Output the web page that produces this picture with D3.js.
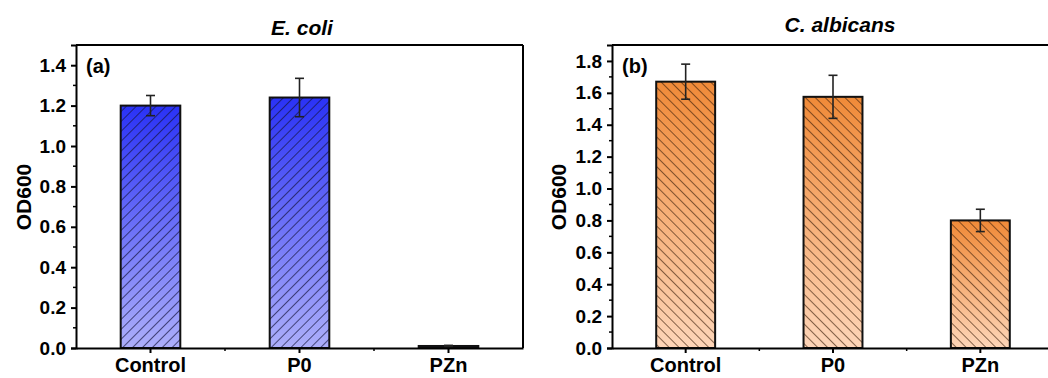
<!DOCTYPE html>
<html><head><meta charset="utf-8">
<script src="https://cdn.jsdelivr.net/npm/d3@7"></script>
<style>
html,body{margin:0;padding:0;background:#fff;}
svg{display:block;font-family:"Liberation Sans",Arial,sans-serif;}
</style></head>
<body>
<svg id="chart" width="1048" height="378"></svg>
<script>
const categories = ["Control", "P0", "PZn"];
const ecoliValues = [1.20, 1.24, 0.01];
const ecoliErrors = [0.05, 0.095, 0.003];
const albicansValues = [1.67, 1.575, 0.80];
const albicansErrors = [0.11, 0.135, 0.07];
const ecoliTicks = [0, 0.2, 0.4, 0.6, 0.8, 1.0, 1.2, 1.4];
const albicansTicks = [0, 0.2, 0.4, 0.6, 0.8, 1.0, 1.2, 1.4, 1.6, 1.8];

const svg = d3.select("#chart");
const defs = svg.append("defs");
const FONT = "Liberation Sans, Arial, sans-serif";

function makePanel(cfg) {
  const x = d3.scaleBand().domain(categories).range([cfg.x0, cfg.x1]).paddingInner(0.6).paddingOuter(0.3);
  const y = d3.scaleLinear().domain([0, cfg.ymax]).range([348, 45]);
  const g = svg.append("g");

  const grad = defs.append("linearGradient").attr("id", cfg.id + "grad")
    .attr("x1", 0).attr("y1", 0).attr("x2", 0).attr("y2", 1);
  grad.append("stop").attr("offset", "0%").attr("stop-color", cfg.top);
  grad.append("stop").attr("offset", "100%").attr("stop-color", cfg.bottom);

  const pat = defs.append("pattern").attr("id", cfg.id + "hatch")
    .attr("patternUnits", "userSpaceOnUse").attr("width", 7).attr("height", 7)
    .attr("patternTransform", "rotate(" + cfg.angle + ")");
  pat.append("line").attr("x1", 0).attr("y1", 3.5).attr("x2", 7).attr("y2", 3.5)
    .attr("stroke", cfg.hatch).attr("stroke-width", 0.9);

  svg.append("text").attr("x", cfg.titleX).attr("y", cfg.titleY)
    .attr("text-anchor", "middle").attr("font-size", 21).attr("font-weight", "bold")
    .attr("font-style", "italic").text(cfg.title);

  const bars = g.selectAll(".bar").data(categories).enter();
  bars.append("rect").attr("x", d => x(d)).attr("width", x.bandwidth())
    .attr("y", (d, i) => y(cfg.values[i])).attr("height", (d, i) => y(0) - y(cfg.values[i]))
    .attr("fill", "url(#" + cfg.id + "grad)");
  bars.append("rect").attr("x", d => x(d)).attr("width", x.bandwidth())
    .attr("y", (d, i) => y(cfg.values[i])).attr("height", (d, i) => y(0) - y(cfg.values[i]))
    .attr("fill", "url(#" + cfg.id + "hatch)")
    .attr("stroke", "#111").attr("stroke-width", 2);

  const cap = 4.5;
  categories.forEach((c, i) => {
    const cx = x(c) + x.bandwidth() / 2;
    const hi = y(cfg.values[i] + cfg.errors[i]), lo = y(cfg.values[i] - cfg.errors[i]);
    g.append("line").attr("x1", cx).attr("x2", cx).attr("y1", hi).attr("y2", lo)
      .attr("stroke", "#222").attr("stroke-width", 1.6);
    [hi, lo].forEach(yy => g.append("line").attr("x1", cx - cap).attr("x2", cx + cap)
      .attr("y1", yy).attr("y2", yy).attr("stroke", "#222").attr("stroke-width", 1.6));
  });

  g.append("line").attr("x1", cfg.x0).attr("x2", cfg.x1).attr("y1", y.range()[1]).attr("y2", y.range()[1])
    .attr("stroke", "#000").attr("stroke-width", 2);
  g.append("line").attr("x1", cfg.x1).attr("x2", cfg.x1).attr("y1", y.range()[1]).attr("y2", y.range()[0])
    .attr("stroke", "#000").attr("stroke-width", 2);

  const ya = g.append("g").attr("transform", "translate(" + cfg.x0 + ",0)")
    .call(d3.axisLeft(y).tickValues(cfg.ticks).tickSize(5).tickPadding(5).tickFormat(d3.format(".1f")));
  ya.select(".domain").attr("stroke-width", 2);
  ya.selectAll(".tick line").attr("stroke-width", 2);
  ya.selectAll("text").attr("font-size", 19).attr("font-weight", "bold").attr("fill", "#000")
    .attr("font-family", FONT);
  const minors = cfg.ticks.map(t => t + 0.1).filter(v => v < cfg.ymax);
  g.selectAll(".ymin").data(minors).enter().append("line")
    .attr("x1", cfg.x0 - 3).attr("x2", cfg.x0).attr("y1", d => y(d)).attr("y2", d => y(d))
    .attr("stroke", "#000").attr("stroke-width", 1.5);

  const xa = g.append("g").attr("transform", "translate(0,348)")
    .call(d3.axisBottom(x).tickSize(5).tickSizeOuter(0).tickPadding(5));
  xa.select(".domain").attr("stroke-width", 2);
  xa.selectAll(".tick line").attr("stroke-width", 2);
  xa.selectAll("text").attr("font-size", 20).attr("font-weight", "bold").attr("fill", "#000")
    .attr("font-family", FONT);
  const step = x.step();
  const bounds = categories.slice(1).map(c => x(c) + x.bandwidth() / 2 - step / 2);
  g.selectAll(".xmin").data(bounds).enter().append("line")
    .attr("x1", d => d).attr("x2", d => d).attr("y1", 348).attr("y2", 351)
    .attr("stroke", "#000").attr("stroke-width", 1.5);

  svg.append("text").attr("transform", "translate(" + cfg.ylabX + ",197) rotate(-90)")
    .attr("text-anchor", "middle").attr("font-size", 21).attr("font-weight", "bold").text("OD600");

  svg.append("text").attr("x", cfg.x0 + 10).attr("y", 73).attr("font-size", 20)
    .attr("font-weight", "bold").text(cfg.letter);
}

makePanel({id: "a", x0: 76, x1: 523, ymax: 1.5, values: ecoliValues, errors: ecoliErrors, ticks: ecoliTicks,
  top: "#2a32f6", bottom: "#acaefa", hatch: "rgba(20,20,60,0.75)", angle: -45,
  title: "E. coli", titleX: 302, titleY: 35, ylabX: 31, letter: "(a)"});
makePanel({id: "b", x0: 612, x1: 1054, ymax: 1.9, values: albicansValues, errors: albicansErrors, ticks: albicansTicks,
  top: "#f08a38", bottom: "#fdd5b8", hatch: "rgba(60,30,10,0.7)", angle: 45,
  title: "C. albicans", titleX: 840, titleY: 32, ylabX: 566, letter: "(b)"});
</script>
</body></html>
